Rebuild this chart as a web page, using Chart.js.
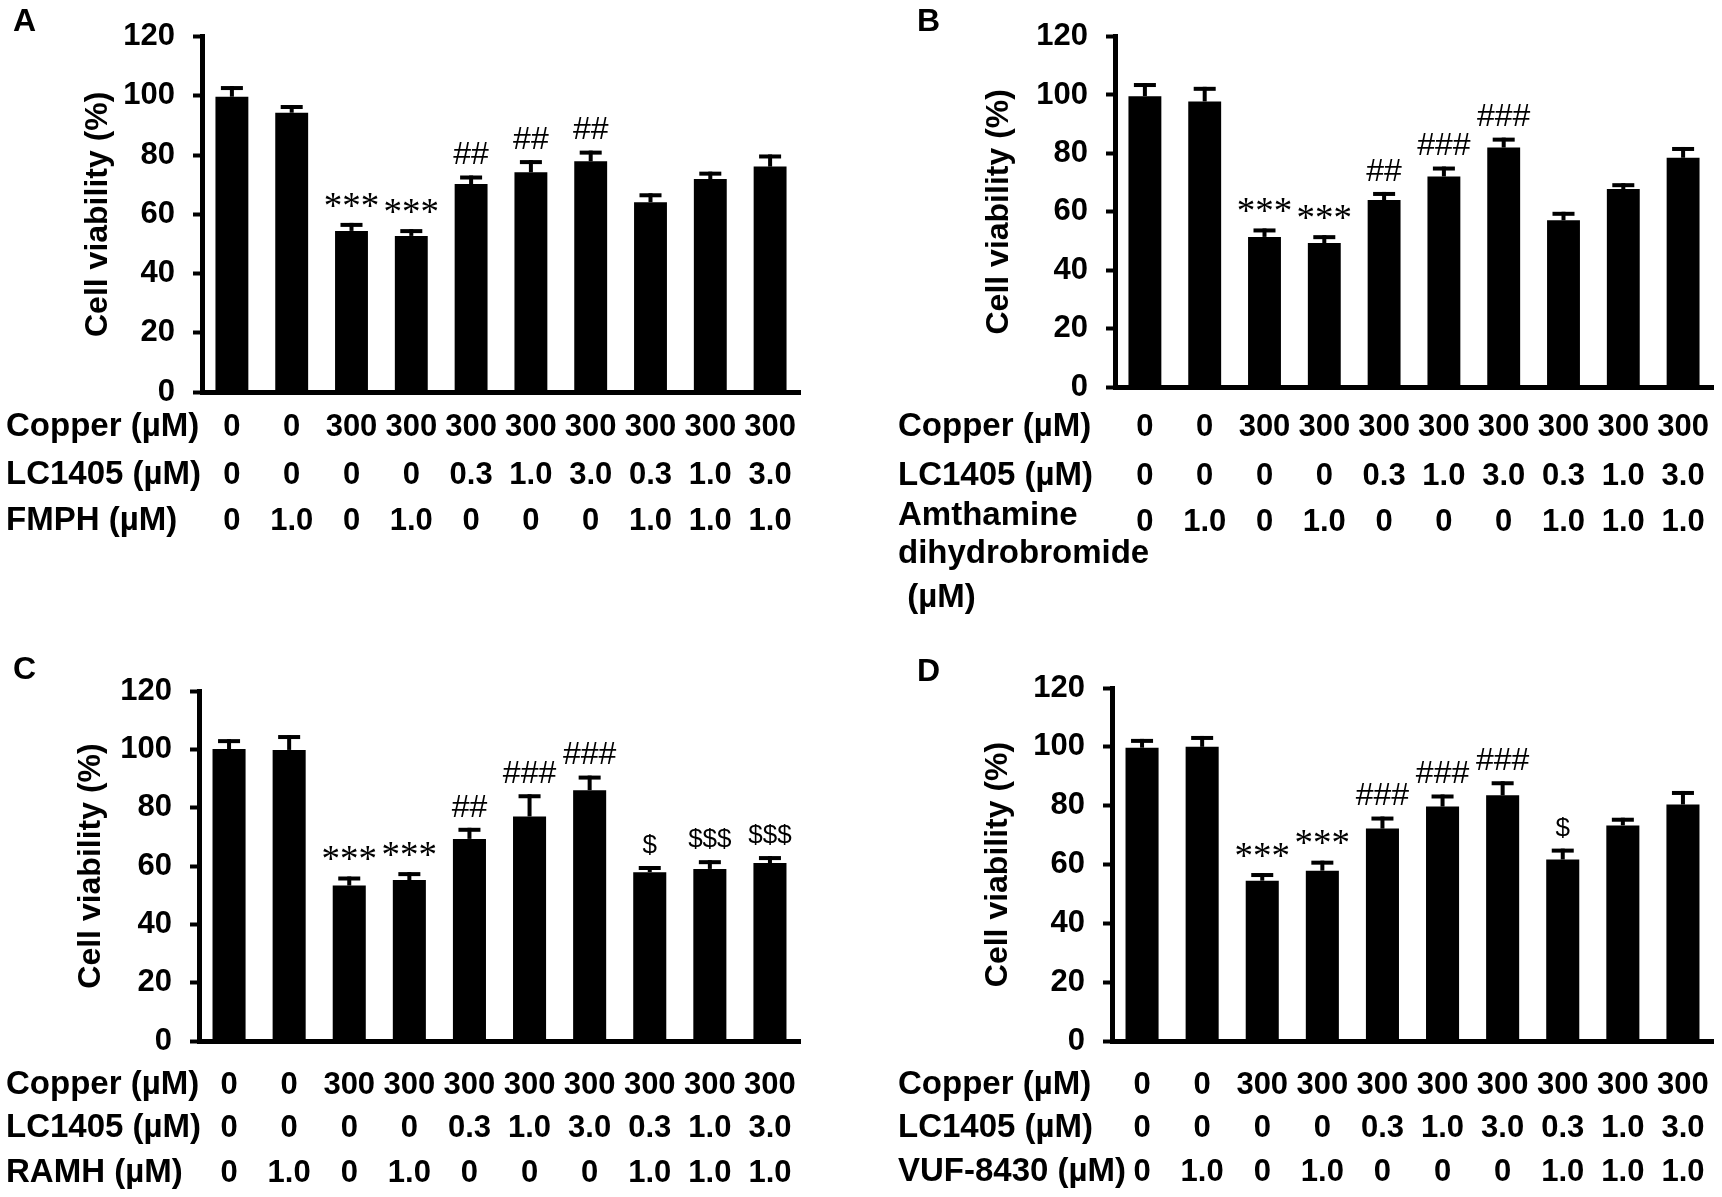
<!DOCTYPE html>
<html>
<head>
<meta charset="utf-8">
<script src="https://cdn.jsdelivr.net/npm/chart.js@4.4.1/dist/chart.umd.min.js"></script>
<style>
  html, body { margin: 0; padding: 0; background: #fff; }
  #page { position: relative; width: 1722px; height: 1197px; overflow: hidden; }
  canvas { position: absolute; }
</style>
</head>
<body>
<div id="page">
  <canvas id="panelA" width="861" height="640" style="left:0;top:0"></canvas>
  <canvas id="panelB" width="861" height="640" style="left:861px;top:0"></canvas>
  <canvas id="panelC" width="861" height="557" style="left:0;top:640px"></canvas>
  <canvas id="panelD" width="861" height="557" style="left:861px;top:640px"></canvas>
</div>
<script>
// ── data ────────────────────────────────────────────────────────────────────
const groups       = ['G1','G2','G3','G4','G5','G6','G7','G8','G9','G10'];
const copperDose   = ['0','0','300','300','300','300','300','300','300','300'];
const lc1405Dose   = ['0','0','0','0','0.3','1.0','3.0','0.3','1.0','3.0'];
const agonistDose  = ['0','1.0','0','1.0','0','0','0','1.0','1.0','1.0'];
const yTicks       = [0, 20, 40, 60, 80, 100, 120];
const yTitle       = 'Cell viability (%)';

// A — FMPH
const viabilityA = [99.7, 94.3, 54.4, 52.7, 70.2, 74.2, 77.9, 64.1, 71.9, 76.1];
const errorA     = [3.6, 2.6, 2.7, 2.3, 2.9, 4.1, 3.6, 3.0, 2.5, 4.1];
const marksA     = ['', '', '***', '***', '##', '##', '##', '', '', ''];

// B — Amthamine dihydrobromide
const viabilityB = [99.6, 97.8, 51.4, 49.3, 64.0, 72.1, 82.0, 57.1, 67.8, 78.5];
const errorB     = [4.5, 5.0, 2.9, 2.7, 2.8, 3.4, 3.4, 2.9, 2.0, 3.7];
const marksB     = ['', '', '***', '***', '##', '###', '###', '', '', ''];

// C — RAMH
const viabilityC = [100.1, 99.8, 53.3, 55.2, 69.3, 77.0, 86.0, 57.9, 59.0, 61.0];
const errorC     = [3.4, 5.1, 3.1, 2.7, 3.8, 7.6, 5.0, 2.1, 3.0, 2.4];
const marksC     = ['', '', '***', '***', '##', '###', '###', '$', '$$$', '$$$'];

// D — VUF-8430
const viabilityD = [99.7, 100.0, 54.5, 57.9, 72.2, 79.7, 83.5, 61.7, 73.3, 80.4];
const errorD     = [3.0, 3.7, 2.6, 3.4, 4.1, 4.1, 4.8, 3.7, 2.6, 4.6];
const marksD     = ['', '', '***', '***', '###', '###', '###', '$', '', ''];

// ── layout (page pixels) ────────────────────────────────────────────────────
const SANS  = '"Liberation Sans", Arial, sans-serif';
const SERIF = '"Liberation Serif", "Times New Roman", serif';

const panels = [
  { id:'panelA', letter:'A', ox:0,   oy:0,   w:861, h:640, letterX:13,  letterY:22,
    axisX:202,  top:34,  zero:392,  right:800,  titleX:98,
    values:viabilityA, errors:errorA, marks:marksA, labelX:6,
    rows:[ { lines:[['Copper (µM)',427]], values:copperDose, y:427 },
           { lines:[['LC1405 (µM)',475]], values:lc1405Dose, y:475 },
           { lines:[['FMPH (µM)',521]],   values:agonistDose, y:521 } ] },
  { id:'panelB', letter:'B', ox:861, oy:0,   w:861, h:640, letterX:917, letterY:22,
    axisX:1115, top:33,  zero:387,  right:1713, titleX:999,
    values:viabilityB, errors:errorB, marks:marksB, labelX:898,
    rows:[ { lines:[['Copper (µM)',427]], values:copperDose, y:427 },
           { lines:[['LC1405 (µM)',476]], values:lc1405Dose, y:476 },
           { lines:[['Amthamine',516],['dihydrobromide',554],[' (µM)',598]], values:agonistDose, y:522 } ] },
  { id:'panelC', letter:'C', ox:0,   oy:640, w:861, h:557, letterX:13,  letterY:670,
    axisX:199,  top:691, zero:1041, right:800,  titleX:91,
    values:viabilityC, errors:errorC, marks:marksC, labelX:6,
    rows:[ { lines:[['Copper (µM)',1085]], values:copperDose, y:1085 },
           { lines:[['LC1405 (µM)',1128]], values:lc1405Dose, y:1128 },
           { lines:[['RAMH (µM)',1173]],   values:agonistDose, y:1173 } ] },
  { id:'panelD', letter:'D', ox:861, oy:640, w:861, h:557, letterX:917, letterY:672,
    axisX:1112, top:688, zero:1041, right:1713, titleX:998,
    values:viabilityD, errors:errorD, marks:marksD, labelX:898,
    rows:[ { lines:[['Copper (µM)',1085]],   values:copperDose, y:1085 },
           { lines:[['LC1405 (µM)',1128]],   values:lc1405Dose, y:1128 },
           { lines:[['VUF-8430 (µM)',1172]], values:agonistDose, y:1172 } ] }
];

// error bars, significance marks, dose table and panel letter
function makeOverlay(p) {
  return {
    id: 'overlay',
    afterDatasetsDraw(chart) {
      const ctx = chart.ctx;
      const y = chart.scales.y;
      const meta = chart.getDatasetMeta(0);
      ctx.save();
      ctx.fillStyle = '#000';
      meta.data.forEach((bar, i) => {
        const capY = y.getPixelForValue(p.values[i] + p.errors[i]);
        ctx.fillRect(bar.x - 2, capY, 4, bar.y - capY);
        ctx.fillRect(bar.x - 11, capY, 22, 4);
        const m = p.marks[i];
        if (!m) return;
        ctx.textAlign = 'center';
        ctx.textBaseline = 'middle';
        if (m[0] === '*') {
          ctx.font = '37px ' + SERIF;
          ctx.fillText(m, bar.x, capY - 20 + 5);
        } else if (m[0] === '#') {
          ctx.font = '32px ' + SANS;
          ctx.fillText(m, bar.x, capY - 20);
        } else {
          ctx.font = '26px ' + SANS;
          ctx.fillText(m, bar.x, capY - 20);
        }
      });
      ctx.restore();
    },
    afterDraw(chart) {
      const ctx = chart.ctx;
      const x = chart.scales.x;
      ctx.save();
      ctx.fillStyle = '#000';
      ctx.textBaseline = 'middle';
      ctx.font = 'bold 32px ' + SANS;
      ctx.textAlign = 'left';
      ctx.fillText(p.letter, p.letterX - p.ox, p.letterY - p.oy);
      p.rows.forEach(row => {
        ctx.font = 'bold 33px ' + SANS;
        ctx.textAlign = 'left';
        row.lines.forEach(([t, ly]) => ctx.fillText(t, p.labelX - p.ox, ly - p.oy));
        ctx.font = 'bold 31px ' + SANS;
        ctx.textAlign = 'center';
        row.values.forEach((v, i) => ctx.fillText(v, x.getPixelForValue(i), row.y - p.oy));
      });
      ctx.restore();
    }
  };
}

function buildPanel(p) {
  const padLeft = p.titleX - p.ox - 19;
  return new Chart(document.getElementById(p.id), {
    type: 'bar',
    data: {
      labels: groups,
      datasets: [{ data: p.values, backgroundColor: '#000', borderWidth: 0,
                   barPercentage: 0.55, categoryPercentage: 1 }]
    },
    options: {
      responsive: false, animation: false, devicePixelRatio: 1,
      layout: { padding: { left: padLeft, top: p.top - p.oy,
                           right: p.ox + p.w - p.right, bottom: p.oy + p.h - p.zero } },
      plugins: { legend: { display: false }, tooltip: { enabled: false } },
      scales: {
        x: {
          ticks: { display: false },
          grid: { display: true, drawOnChartArea: false, drawTicks: false },
          border: { display: true, color: '#000', width: 5 },
          afterFit: s => { s.height = 0; }
        },
        y: {
          min: 0, max: 120,
          afterBuildTicks: s => { s.ticks = yTicks.map(v => ({ value: v })); },
          ticks: { color: '#000', padding: 18, font: { family: SANS, size: 31, weight: 'bold' } },
          grid: { drawOnChartArea: false, drawTicks: true, tickLength: 9, tickWidth: 4, color: '#000' },
          border: { display: true, color: '#000', width: 5 },
          title: { display: true, text: yTitle, color: '#000', padding: 0,
                   font: { family: SANS, size: 32, weight: 'bold' } },
          afterFit: s => { s.width = p.axisX - p.ox - padLeft; }
        }
      }
    },
    plugins: [makeOverlay(p)]
  });
}

panels.forEach(buildPanel);
</script>
</body>
</html>
